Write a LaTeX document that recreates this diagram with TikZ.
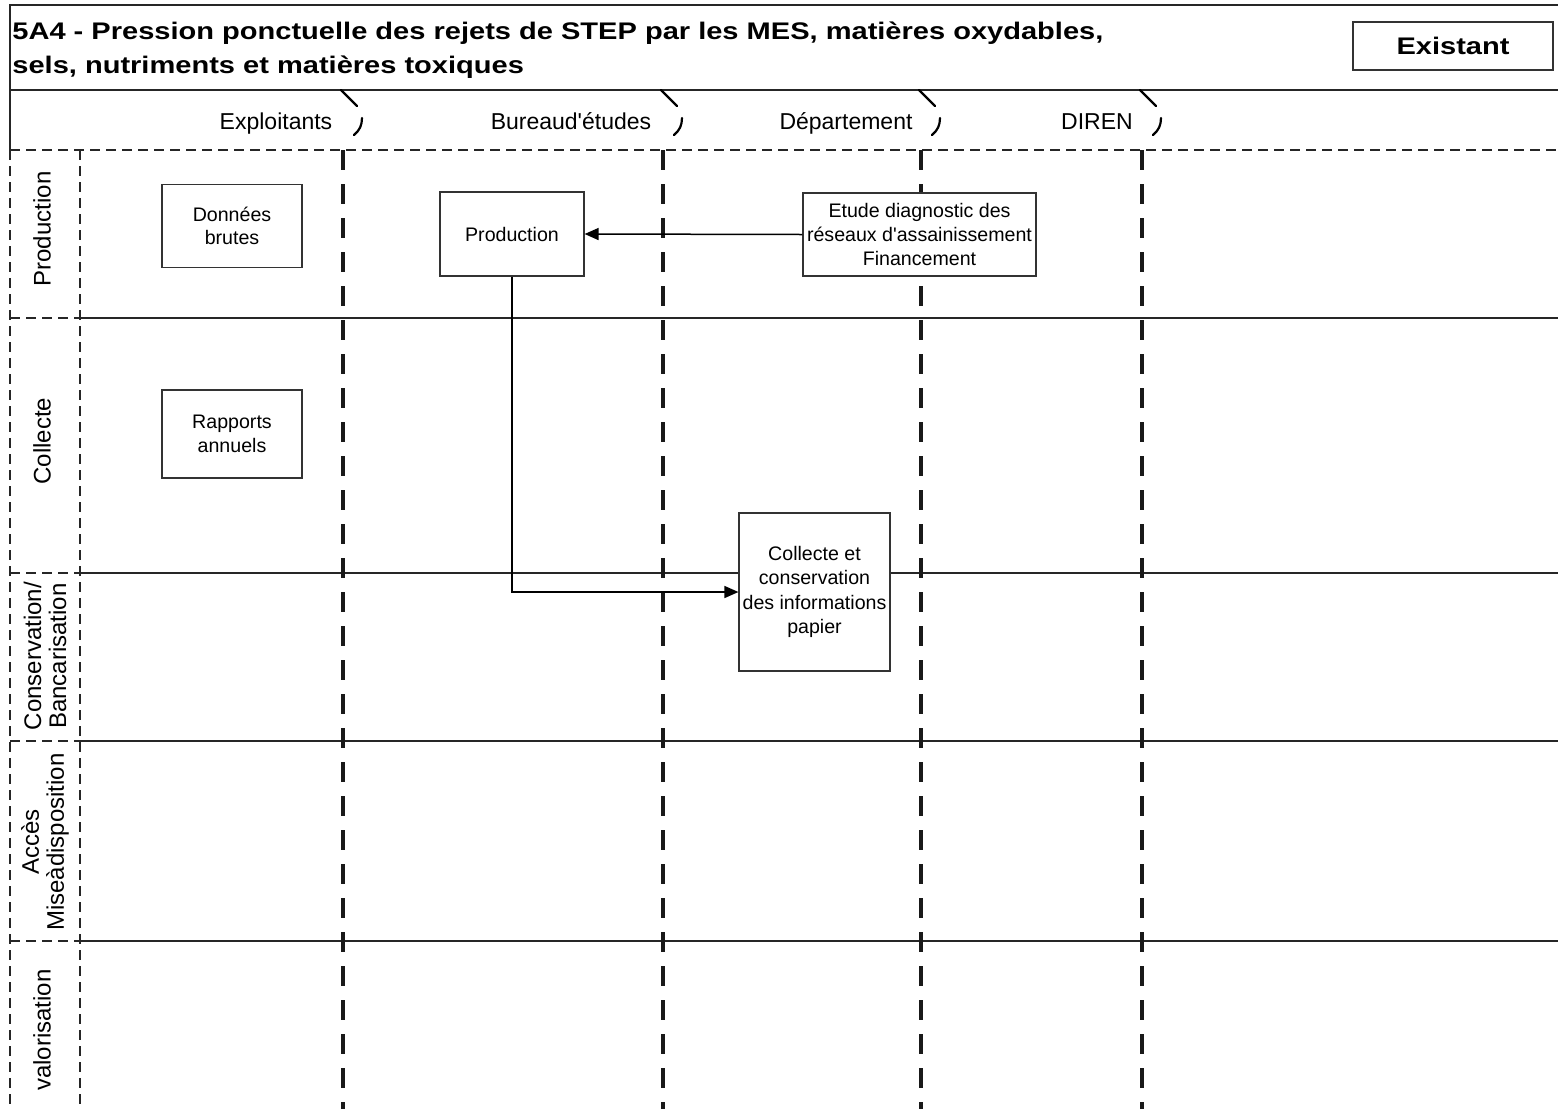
\documentclass[tikz,border=0pt]{standalone}
\usepackage{fontspec}
\setmainfont{Liberation Sans}
\newfontfamily\widefont[FakeStretch=1.21]{Liberation Sans}
\usetikzlibrary{arrows.meta, positioning}

\begin{document}
\begin{tikzpicture}[
  x=0.5pt, y=-0.5pt,
  frame/.style={line width=0.75pt, draw=black!85},
  colsep/.style={line width=1.8pt, draw=black!90, dash pattern=on 10pt off 7pt},
  lanesep/.style={line width=0.75pt, draw=black!85, dash pattern=on 5pt off 3pt},
  sepmark/.style={line width=1.1pt, line cap=round},
  box/.style={rectangle, draw=black!80, line width=0.6pt, fill=white, align=center,
              inner sep=0pt, font=\fontsize{9.8}{11.8}\selectfont},
  actor/.style={anchor=base, font=\fontsize{11.5}{13}\selectfont, inner sep=0pt},
  lane/.style={rotate=90, align=center, font=\fontsize{12}{12.5}\selectfont, inner sep=0pt},
  flow/.style={-{Triangle[length=7pt, width=6pt]}, line width=0.75pt}
]
  \useasboundingbox (0,0) rectangle (1558,1109);

  % Title band
  \draw[frame] (1558,5) -- (10,5) -- (10,150);
  \draw[frame] (10,90) -- (1558,90);
  \node[anchor=north west, align=left, inner sep=0pt,
        font=\widefont\bfseries\fontsize{12}{17}\selectfont] (titre) at (12,21)
    {5A4 - Pression ponctuelle des rejets de STEP par les MES, matières oxydables,\\
     sels, nutriments et matières toxiques};
  \node[draw=black!80, line width=0.6pt, minimum width=100pt, minimum height=24pt,
        font=\widefont\bfseries\fontsize{12}{14}\selectfont] (etat) at (1453,46) {Existant};

  % Actors
  \node[actor] (exploitants) at (276,129) {Exploitants};
  \node[actor] (bureau)      at (571,129) {Bureaud\textquotesingle études};
  \node[actor] (departement) at (846,129) {Département};
  \node[actor] (diren)       at (1097,129) {DIREN};

  \draw[sepmark] (341,90) -- (357,106);   \draw[sepmark] (362,118) to[bend left=25] (354,135);
  \draw[sepmark] (661,90) -- (677,106);   \draw[sepmark] (682,118) to[bend left=25] (674,135);
  \draw[sepmark] (919,90) -- (935,106);   \draw[sepmark] (940,118) to[bend left=25] (932,135);
  \draw[sepmark] (1140,90) -- (1156,106); \draw[sepmark] (1161,118) to[bend left=25] (1153,135);

  % Lanes
  \draw[lanesep] (10,150) -- (1558,150);
  \draw[lanesep] (10,150) -- (10,1109);
  \draw[lanesep] (80,150) -- (80,1109);
  \draw[lanesep] (10,318) -- (80,318);  \draw[frame] (80,318) -- (1558,318);
  \draw[lanesep] (10,573) -- (80,573);  \draw[frame] (80,573) -- (1558,573);
  \draw[lanesep] (10,741) -- (80,741);  \draw[frame] (80,741) -- (1558,741);
  \draw[lanesep] (10,941) -- (80,941);  \draw[frame] (80,941) -- (1558,941);

  \node[lane] (l-prod)  at (42,229)  {Production};
  \node[lane] (l-coll)  at (42,441)  {Collecte};
  \node[lane] (l-cons)  at (45,656)  {Conservation/\\Bancarisation};
  \node[lane] (l-acces) at (45,842)  {Accès\\Miseàdisposition};
  \node[lane] (l-valo)  at (42,1030) {valorisation};

  % Column separators
  \draw[colsep] (343,150) -- (343,1109);
  \draw[colsep] (663,150) -- (663,1109);
  \draw[colsep] (921,150) -- (921,1109);
  \draw[colsep] (1142,150) -- (1142,1109);

  % Boxes
  \node[box, minimum width=70pt, minimum height=41.5pt] (donnees) at (232,226) {Données\\brutes};
  \node[box, minimum width=72pt, minimum height=42pt] (prod) at (512,234) {Production};
  \node[box, minimum width=116.5pt, minimum height=41.5pt] (etude) at (919.5,234.5)
    {Etude diagnostic des\\réseaux d\textquotesingle assainissement\\Financement};
  \node[box, minimum width=70pt, minimum height=44pt] (rapports) at (232,434) {Rapports\\annuels};
  \node[box, minimum width=75.5pt, minimum height=79pt,
        font=\fontsize{9.8}{12.2}\selectfont] (collecte) at (814.5,592)
    {Collecte et\\conservation\\des informations\\papier};

  % Flows
  \draw[flow] (etude.west) -- (prod.east);
  \draw[flow] (prod.south) |- (collecte.west);
\end{tikzpicture}
\end{document}
